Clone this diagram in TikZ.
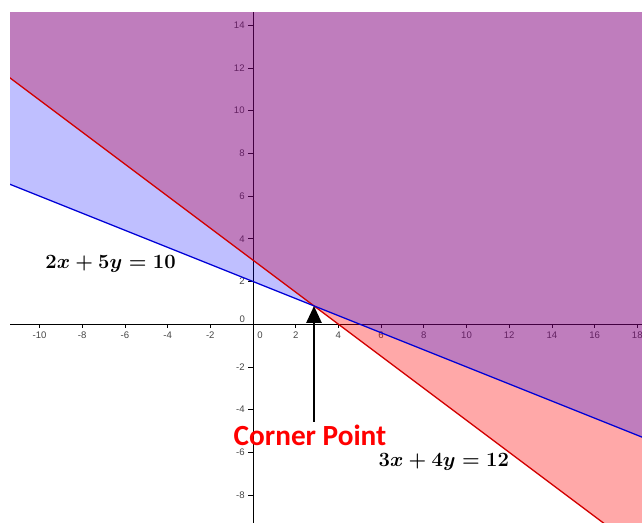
\documentclass[tikz,border=0pt]{standalone}
\usepackage{fontspec}
\setsansfont{Liberation Sans}
\newfontfamily\calfont{Carlito}
\usetikzlibrary{arrows.meta, positioning}

\definecolor{lineRed}{RGB}{210,0,0}
\definecolor{lineBlue}{RGB}{0,0,215}
\definecolor{tickGray}{RGB}{70,70,70}

\begin{document}
\begin{tikzpicture}[
    x=0.53375cm, y=0.53375cm,
    axis/.style={line width=0.6pt, black},
    tick/.style={line width=0.5pt, black},
    ticklabel/.style={font=\sffamily\fontsize{6.8}{7}\selectfont, text=tickGray, inner sep=0pt},
    redfill/.style={fill=red, fill opacity=0.34},
    bluefill/.style={fill=blue, fill opacity=0.25},
    redline/.style={line width=0.9pt, lineRed},
    blueline/.style={line width=0.9pt, lineBlue},
    eqlabel/.style={font=\fontsize{14}{16}\selectfont\boldmath, inner sep=0pt, anchor=base},
    cornerlabel/.style={font=\calfont\bfseries\fontsize{20.8}{24}\selectfont, text=red, inner sep=0pt, anchor=base},
    pointer/.style={-{Triangle[length=12pt, width=10.6pt]}, line width=1.8pt, black}
  ]
    \useasboundingbox[fill=white] (-11.85,-9.31) rectangle (18.22,15.185);
    \begin{scope}
      \clip (-11.38,-9.31) rectangle (18.22,14.58);
      % axes and ticks
      \draw[axis] (-12,0) -- (19,0);
      \draw[axis] (0,-10) -- (0,15);
      \foreach \t in {-10,-8,...,18} {
        \draw[tick] (\t,0) -- (\t,-0.16);
      }
      \foreach \t in {-8,-6,...,14} {
        \draw[tick] (0,\t) -- (-0.24,\t);
      }
      \foreach \t in {-10,-8,-6,-4,-2,2,4,...,18} {
        \node[ticklabel] (xl\t) at (\t,-0.52) {\t};
      }
      \foreach \t in {-8,-6,-4,-2,2,4,...,14} {
        \node[ticklabel, anchor=east] (yl\t) at (-0.38,\t) {\t};
      }
      \node[ticklabel] (xl0) at (0.33,-0.52) {0};
      \node[ticklabel] (yl0) at (-0.5,0.25) {0};
      % half-planes
      \fill[redfill] (-20,18) -- (24,-15) -- (24,20) -- (-20,20) -- cycle;
      \fill[bluefill] (-20,10) -- (24,-7.6) -- (24,20) -- (-20,20) -- cycle;
      \draw[redline] (-20,18) -- (24,-15);
      \draw[blueline] (-20,10) -- (24,-7.6);
    \end{scope}
    \coordinate (corner) at (20/7,6/7);
    \coordinate (tail) at (20/7,-4.57);
    \draw[pointer] (tail) -- (corner);
    \node[cornerlabel] (cornertext) at (2.67,-5.66) {Corner Point};
    \node[eqlabel] (eqblue) at (-6.67,2.63) {$2x+5y=10$};
    \node[eqlabel] (eqred) at (8.94,-6.66) {$3x+4y=12$};
  \end{tikzpicture}
\end{document}
